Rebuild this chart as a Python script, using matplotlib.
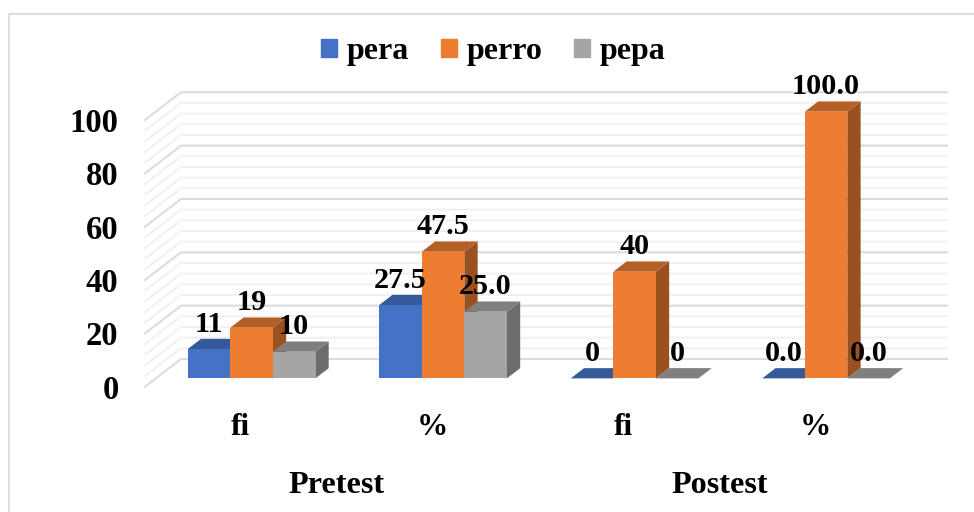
#!/usr/bin/env python3
# -*- coding: utf-8 -*-

import matplotlib
matplotlib.use('Agg')
import matplotlib.pyplot as plt
from matplotlib.patches import Patch, Rectangle

plt.rcParams['font.family'] = 'Liberation Serif'
plt.rcParams['font.weight'] = 'bold'

# data
categories = ['fi', '%', 'fi', '%']
groups = ['Pretest', 'Postest']
group_pos = [0.5, 2.5]
yticks = [0, 20, 40, 60, 80, 100]

pera = [11, 27.5, 0, 0.0]
perro = [19, 47.5, 40, 100.0]
pepa = [10, 25.0, 0, 0.0]

pera_lbl = ['11', '27.5', '0', '0.0']
perro_lbl = ['19', '47.5', '40', '100.0']
pepa_lbl = ['10', '25.0', '0', '0.0']

# colours: front, top, side
cols_pera = ('#4472C4', '#355A9B', '#2F5088')
cols_perro = ('#ED7D31', '#B55F25', '#9A501F')
cols_pepa = ('#A5A5A5', '#7F7F7F', '#6C6C6C')

W, H = 974, 512
BAR_W = 0.2222

# how far the back wall is shifted from the front plane, in data units
DEPTH_X = 36 / 191.5
DEPTH_Y = 27.7 / 2.667
D_FRONT, D_BACK = 0.30, 0.67


def shift(x, y, d):
    return x + d*DEPTH_X, y + d*DEPTH_Y


def wall_grid(ax):
    # minor lines first so the major ones sit on top
    for v in range(0, 101, 4):
        major = v % 20 == 0
        x0, y0 = shift(-0.5, v, 0)
        x1, y1 = shift(-0.5, v, 1)
        x2, y2 = shift(3.5, v, 1)
        ax.plot([x0, x1, x2], [y0, y1, y2], color='#DCDCDC' if major else '#F1F1F1',
                lw=1.5, clip_on=False, zorder=2 if major else 1, solid_joinstyle='miter')


def bar3d(ax, x, val, cols, z):
    xf, yf = shift(x - BAR_W/2, val, D_FRONT)
    _, y0 = shift(x, 0, D_FRONT)
    dx = (D_BACK - D_FRONT)*DEPTH_X
    dy = (D_BACK - D_FRONT)*DEPTH_Y
    ax.bar(xf, val, width=BAR_W, bottom=y0, align='edge', color=cols[0], zorder=z+0.2, clip_on=False)
    ax.fill([xf, xf+BAR_W, xf+BAR_W+dx, xf+dx], [yf, yf, yf+dy, yf+dy],
            color=cols[1], lw=0, zorder=z+0.1, clip_on=False)
    ax.fill([xf+BAR_W, xf+BAR_W+dx, xf+BAR_W+dx, xf+BAR_W], [y0, y0+dy, yf+dy, yf],
            color=cols[2], lw=0, zorder=z, clip_on=False)


fig = plt.figure(figsize=(W/100, H/100), dpi=100)
# only the top and left edges of the frame are inside the picture
fig.add_artist(Rectangle((8.5/W, -0.01), 1.0, 1 - 14/H + 0.01, transform=fig.transFigure,
                         fill=False, ec='#DEDEDE', lw=1.5))

ax = fig.add_axes([145/W, 1 - 386.7/H, 766/W, 266.7/H])
ax.set_xlim(-0.5, 3.5)
ax.set_ylim(0, 100)
ax.patch.set_visible(False)
for s in ax.spines.values():
    s.set_visible(False)

wall_grid(ax)

series = [(pera, pera_lbl, cols_pera, -BAR_W),
          (perro, perro_lbl, cols_perro, 0),
          (pepa, pepa_lbl, cols_pepa, BAR_W)]
for i, (vals, lbls, cols, off) in enumerate(series):
    for j, (v, lb) in enumerate(zip(vals, lbls)):
        bar3d(ax, j + off, v, cols, 5 + i)
        xt, yt = shift(j + off, v, D_FRONT)
        ax.annotate(lb, (xt, yt), xytext=(0, 18), textcoords='offset points',
                    ha='center', va='center', fontsize=21.8, color='black',
                    annotation_clip=False, zorder=20)

ax.set_xticks(range(4))
ax.set_xticklabels(categories, fontsize=22.5)
ax.set_yticks(yticks)
ax.tick_params(axis='x', length=0, pad=19)
ax.tick_params(axis='y', length=0, pad=19, labelsize=23.5)

for g, gx in zip(groups, group_pos):
    ax.annotate(g, (gx, 0), xytext=(0, -71), textcoords='offset points',
                ha='center', va='center', fontsize=23.2, annotation_clip=False)

handles = [Patch(color=cols_pera[0], label='pera'),
           Patch(color=cols_perro[0], label='perro'),
           Patch(color=cols_pepa[0], label='pepa')]
fig.legend(handles=handles, loc='center', bbox_to_anchor=(493.5/W, 1 - 51.5/H), ncol=3, frameon=False,
           fontsize=23, handlelength=0.5, handleheight=0.5, handletextpad=0.3,
           columnspacing=1.0, borderpad=0)

fig.savefig('out.png', dpi=100)
